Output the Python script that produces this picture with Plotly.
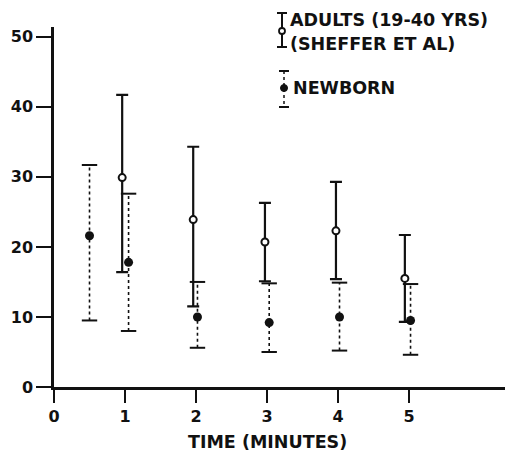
import plotly.graph_objects as go

# Data (minutes, value)
adult_x = [0.96, 1.96, 2.97, 3.97, 4.94]
adult_mean = [29.9, 23.9, 20.7, 22.3, 15.5]
adult_hi = [41.7, 34.3, 26.3, 29.3, 21.7]
adult_lo = [16.4, 11.5, 15.1, 15.4, 9.3]

newborn_x = [0.5, 1.05, 2.02, 3.03, 4.02, 5.02]
newborn_mean = [21.6, 17.8, 10.0, 9.2, 10.0, 9.5]
newborn_hi = [31.7, 27.6, 15.0, 14.8, 14.9, 14.7]
newborn_lo = [9.5, 8.0, 5.6, 5.0, 5.2, 4.6]

x_ticks = [0, 1, 2, 3, 4, 5]
y_ticks = [0, 10, 20, 30, 40, 50]

FONT = "DejaVu Sans"
INK = "#111111"
TXT = dict(family=FONT, size=16, color=INK, weight="bold")
LEG = dict(family=FONT, size=17.5, color=INK, weight="bold")

fig = go.Figure()

# Newborn dotted range lines
lx, ly = [], []
for x, lo, hi in zip(newborn_x, newborn_lo, newborn_hi):
    lx += [x, x, None]
    ly += [lo, hi, None]
fig.add_trace(go.Scatter(x=lx, y=ly, mode="lines",
                         line=dict(color=INK, width=1.6, dash="dot"),
                         hoverinfo="skip", showlegend=False))
# Newborn caps
fig.add_trace(go.Scatter(x=newborn_x + newborn_x, y=newborn_hi + newborn_lo, mode="markers",
                         marker=dict(symbol="line-ew", size=11, line=dict(color=INK, width=2)),
                         hoverinfo="skip", showlegend=False))

# Adults solid error bars
fig.add_trace(go.Scatter(
    x=adult_x, y=adult_mean, mode="markers",
    marker=dict(symbol="circle", size=7, color="white", line=dict(color=INK, width=2)),
    error_y=dict(type="data", symmetric=False,
                 array=[h - m for h, m in zip(adult_hi, adult_mean)],
                 arrayminus=[m - l for m, l in zip(adult_mean, adult_lo)],
                 color=INK, thickness=2.2, width=6),
    showlegend=False))

# Newborn means
fig.add_trace(go.Scatter(x=newborn_x, y=newborn_mean, mode="markers",
                         marker=dict(symbol="circle", size=9, color=INK),
                         showlegend=False))

# Legend (drawn manually)
def px_x(p):
    return (p - 54) / 451
def px_y(p):
    return (387 - p) / 360

shapes = []
# adult legend symbol
ax_ = 282
shapes.append(dict(type="line", xref="paper", yref="paper", x0=px_x(ax_), x1=px_x(ax_),
                   y0=px_y(13), y1=px_y(47), line=dict(color=INK, width=2)))
for yy in (13, 47):
    shapes.append(dict(type="line", xref="paper", yref="paper", x0=px_x(ax_ - 5), x1=px_x(ax_ + 5),
                       y0=px_y(yy), y1=px_y(yy), line=dict(color=INK, width=2)))
shapes.append(dict(type="circle", xref="paper", yref="paper", x0=px_x(ax_ - 3), x1=px_x(ax_ + 3),
                   y0=px_y(34), y1=px_y(28), fillcolor="white", line=dict(color=INK, width=1.8)))
# newborn legend symbol
nx_ = 284
shapes.append(dict(type="line", xref="paper", yref="paper", x0=px_x(nx_), x1=px_x(nx_),
                   y0=px_y(71), y1=px_y(107), line=dict(color=INK, width=1.5, dash="dot")))
for yy in (71, 107):
    shapes.append(dict(type="line", xref="paper", yref="paper", x0=px_x(nx_ - 5), x1=px_x(nx_ + 5),
                       y0=px_y(yy), y1=px_y(yy), line=dict(color=INK, width=2)))
shapes.append(dict(type="circle", xref="paper", yref="paper", x0=px_x(nx_ - 3.5), x1=px_x(nx_ + 3.5),
                   y0=px_y(91.5), y1=px_y(84.5), fillcolor=INK, line=dict(color=INK, width=1)))

annotations = [
    dict(text="ADULTS (19-40 YRS)", xref="paper", yref="paper", x=px_x(288), y=px_y(20),
         xanchor="left", yanchor="middle", showarrow=False, font=LEG),
    dict(text="(SHEFFER ET AL)", xref="paper", yref="paper", x=px_x(288), y=px_y(44),
         xanchor="left", yanchor="middle", showarrow=False, font=LEG),
    dict(text="NEWBORN", xref="paper", yref="paper", x=px_x(291), y=px_y(88),
         xanchor="left", yanchor="middle", showarrow=False, font=LEG),
    dict(text="TIME (MINUTES)", xref="paper", yref="paper", x=px_x(267), y=px_y(442),
         xanchor="center", yanchor="middle", showarrow=False, font=LEG),
]

fig.update_layout(
    width=508, height=455,
    margin=dict(l=54, r=3, t=27, b=68),
    paper_bgcolor="white", plot_bgcolor="white",
    shapes=shapes, annotations=annotations,
    font=TXT,
    xaxis=dict(range=[0, 6.35], tickvals=x_ticks, ticktext=[str(v) for v in x_ticks],
               ticks="outside", ticklen=13, tickwidth=2, tickcolor=INK,
               showline=True, linecolor=INK, linewidth=2.5, showgrid=False, zeroline=False,
               tickfont=TXT),
    yaxis=dict(range=[0, 51.4], tickvals=y_ticks, ticktext=[str(v) for v in y_ticks],
               ticks="outside", ticklen=15, tickwidth=2, tickcolor=INK,
               showline=True, linecolor=INK, linewidth=2.5, showgrid=False, zeroline=False,
               tickfont=TXT),
)

fig.write_html("out.html")
